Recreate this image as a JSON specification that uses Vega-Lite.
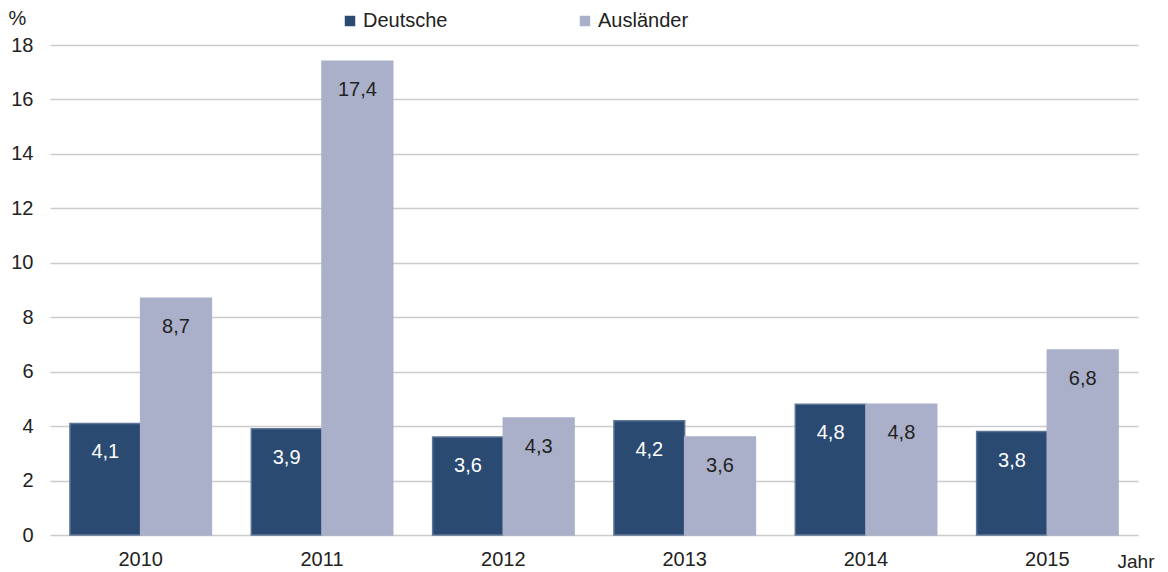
{
  "$schema": "https://vega.github.io/schema/vega-lite/v6.json",
  "width": 1088,
  "height": 490,
  "autosize": {"type": "none"},
  "padding": {"left": 50, "top": 45, "right": 30, "bottom": 37},
  "background": "white",
  "config": {
    "view": {"stroke": null},
    "font": "Liberation Sans",
    "locale": {"number": {"decimal": ",", "thousands": ".", "grouping": [3], "currency": ["", " €"]}}
  },
  "data": {
    "values": [
      {"Jahr": "2010", "Gruppe": "Deutsche", "Wert": 4.1},
      {"Jahr": "2010", "Gruppe": "Ausländer", "Wert": 8.7},
      {"Jahr": "2011", "Gruppe": "Deutsche", "Wert": 3.9},
      {"Jahr": "2011", "Gruppe": "Ausländer", "Wert": 17.4},
      {"Jahr": "2012", "Gruppe": "Deutsche", "Wert": 3.6},
      {"Jahr": "2012", "Gruppe": "Ausländer", "Wert": 4.3},
      {"Jahr": "2013", "Gruppe": "Deutsche", "Wert": 4.2},
      {"Jahr": "2013", "Gruppe": "Ausländer", "Wert": 3.6},
      {"Jahr": "2014", "Gruppe": "Deutsche", "Wert": 4.8},
      {"Jahr": "2014", "Gruppe": "Ausländer", "Wert": 4.8},
      {"Jahr": "2015", "Gruppe": "Deutsche", "Wert": 3.8},
      {"Jahr": "2015", "Gruppe": "Ausländer", "Wert": 6.8}
    ]
  },
  "encoding": {
    "x": {
      "field": "Jahr", "type": "nominal",
      "scale": {"paddingInner": 0.22, "paddingOuter": 0.11},
      "axis": {
        "labelAngle": 0, "labelFontSize": 20, "labelColor": "#222", "labelPadding": 14,
        "ticks": false, "domain": false,
        "title": "Jahr", "titleFontWeight": "normal", "titleFontSize": 19, "titleColor": "#222",
        "titleAnchor": null, "titleAlign": "left", "titleBaseline": "middle", "titleX": 1067, "titleY": 26
      }
    },
    "xOffset": {
      "field": "Gruppe", "type": "nominal",
      "sort": ["Deutsche", "Ausländer"],
      "scale": {"paddingInner": 0, "paddingOuter": 0}
    },
    "y": {
      "field": "Wert", "type": "quantitative",
      "scale": {"domain": [0, 18], "nice": false},
      "axis": {
        "values": [0, 2, 4, 6, 8, 10, 12, 14, 16, 18],
        "labelFontSize": 20, "labelColor": "#222", "labelPadding": 17,
        "ticks": false, "domain": false,
        "grid": true, "gridColor": "#cccccc", "gridWidth": 1.5,
        "title": "%", "titleAngle": 0, "titleFontWeight": "normal", "titleFontSize": 20, "titleColor": "#222",
        "titleAnchor": null, "titleAlign": "center", "titleBaseline": "middle", "titleX": -33, "titleY": -27
      }
    }
  },
  "layer": [
    {
      "mark": {"type": "bar", "strokeWidth": 1.5},
      "encoding": {
        "color": {
          "field": "Gruppe", "type": "nominal",
          "sort": ["Deutsche", "Ausländer"],
          "scale": {"domain": ["Deutsche", "Ausländer"], "range": ["#2b4a72", "#aab0c9"]},
          "legend": {
            "title": null, "orient": "none", "direction": "horizontal",
            "legendX": 290, "legendY": -34,
            "symbolType": "square", "symbolSize": 110, "symbolStrokeWidth": 0,
            "labelFontSize": 20, "labelColor": "#222", "labelOffset": 3,
            "columnPadding": 127
          }
        },
        "stroke": {
          "condition": {"test": "datum.Gruppe === 'Deutsche'", "value": "#5e7596"},
          "value": "#aab0c9"
        }
      }
    },
    {
      "mark": {"type": "text", "baseline": "middle", "align": "center", "dy": 29, "fontSize": 20},
      "encoding": {
        "text": {"field": "Wert", "type": "quantitative", "format": ".1f"},
        "color": {
          "condition": {"test": "datum.Gruppe === 'Deutsche'", "value": "#ffffff"},
          "value": "#222222"
        }
      }
    }
  ]
}
